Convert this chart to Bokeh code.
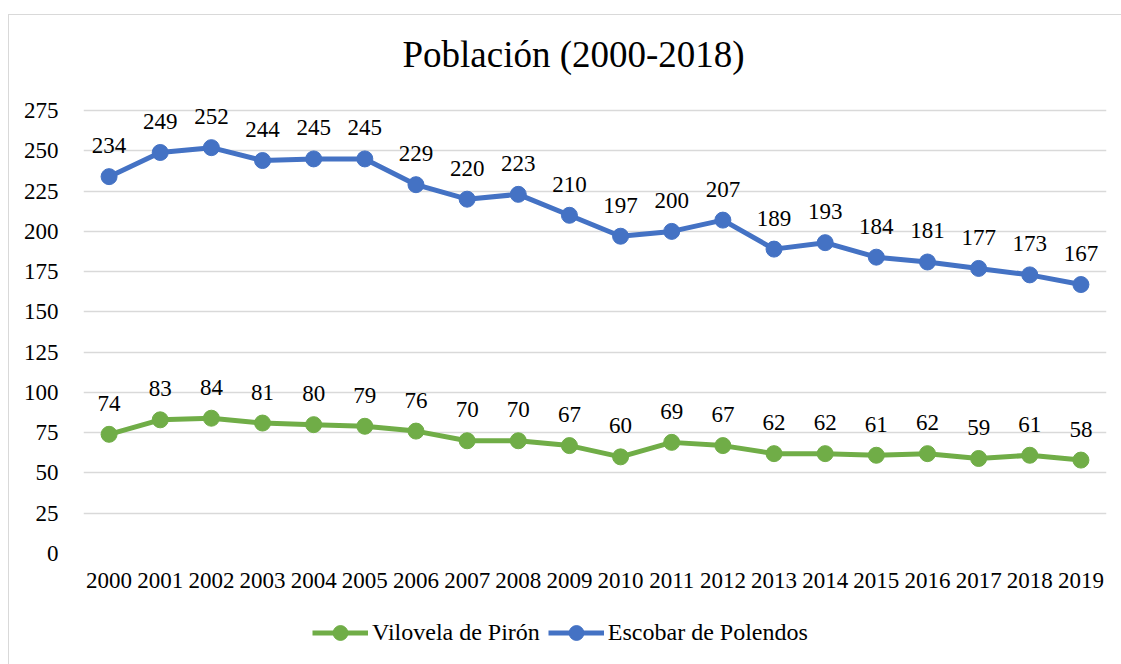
from bokeh.plotting import figure
from bokeh.models import ColumnDataSource, FixedTicker, Legend, LegendItem, Title
from bokeh.layouts import column
from bokeh.core.properties import value
from bokeh.embed import file_html
from bokeh.resources import INLINE

years = [str(y) for y in range(2000, 2020)]
escobar = [234, 249, 252, 244, 245, 245, 229, 220, 223, 210, 197, 200, 207, 189, 193, 184, 181, 177, 173, 167]
vilovela = [74, 83, 84, 81, 80, 79, 76, 70, 70, 67, 60, 69, 67, 62, 62, 61, 62, 59, 61, 58]
y_ticks = list(range(0, 276, 25))

FONT = "Liberation Serif"
BLUE = "#4472C4"
GREEN = "#70AD47"
LBL = "23px"

src = ColumnDataSource(dict(x=years, e=escobar, v=vilovela,
                            el=[str(v) for v in escobar], vl=[str(v) for v in vilovela]))

# y range extends a little past the top tick so labels above the highest points are not clipped
p = figure(width=1112, height=590, x_range=years, y_range=(0, 285),
           output_backend="svg", toolbar_location=None,
           min_border_left=74, min_border_right=15, min_border_top=79, min_border_bottom=52)

p.add_layout(Title(text=" ", text_font_size="3px"), "above")
p.title.text = "Población (2000-2018)"
p.title.text_font = FONT
p.title.text_font_size = "37px"
p.title.text_font_style = "normal"
p.title.align = "left"
p.title.offset = 319
p.title.text_color = "#000000"

p.line("x", "v", source=src, line_color=GREEN, line_width=5)
p.scatter("x", "v", source=src, size=16, fill_color=GREEN, line_color=GREEN)
p.line("x", "e", source=src, line_color=BLUE, line_width=5)
p.scatter("x", "e", source=src, size=16, fill_color=BLUE, line_color=BLUE)

for col, lab in (("e", "el"), ("v", "vl")):
    p.text("x", col, text=lab, source=src, text_font=value(FONT), text_font_size=LBL,
           text_align="center", text_baseline="middle", y_offset=-31, text_color="#000000")

p.yaxis.ticker = FixedTicker(ticks=y_ticks)
for ax in (p.xaxis, p.yaxis):
    ax.axis_line_color = None
    ax.major_tick_line_color = None
    ax.minor_tick_line_color = None
    ax.major_label_text_font = FONT
    ax.major_label_text_font_size = LBL
    ax.major_label_text_color = "#000000"
p.yaxis.major_label_standoff = 19
p.xaxis.major_label_standoff = 13

p.xgrid.grid_line_color = None
p.ygrid.grid_line_color = "#d9d9d9"
p.ygrid.grid_line_width = 1.5
p.outline_line_color = None

# legend strip below the chart
p2 = figure(width=1112, height=59, x_range=years, y_range=(1000, 1001),
            output_backend="svg", toolbar_location=None,
            x_axis_location=None, y_axis_location=None, min_border=0,
            min_border_left=0, min_border_right=0, min_border_top=0, min_border_bottom=0)
p2.xgrid.grid_line_color = None
p2.ygrid.grid_line_color = None
p2.outline_line_color = None
gl = p2.line("x", "v", source=src, line_color=GREEN, line_width=5)
gs = p2.scatter("x", "v", source=src, fill_color=GREEN, line_color=GREEN)
bl = p2.line("x", "e", source=src, line_color=BLUE, line_width=5)
bs = p2.scatter("x", "e", source=src, fill_color=BLUE, line_color=BLUE)
legend = Legend(items=[LegendItem(label="Vilovela de Pirón", renderers=[gl, gs]),
                       LegendItem(label="Escobar de Polendos", renderers=[bl, bs])],
                orientation="horizontal", location=(229, 13),
                label_text_font=FONT, label_text_font_size="24px", label_text_color="#000000",
                glyph_width=56, glyph_height=37, spacing=8, label_standoff=4,
                border_line_color=None, background_fill_alpha=0, padding=0, margin=0)
p2.add_layout(legend, "center")

layout = column(p, p2, spacing=0, margin=(14, 0, 0, 8),
                styles={"border-left": "1px solid #d9d9d9", "border-top": "1px solid #d9d9d9"})

open("out.html", "w").write(file_html(layout, INLINE))
